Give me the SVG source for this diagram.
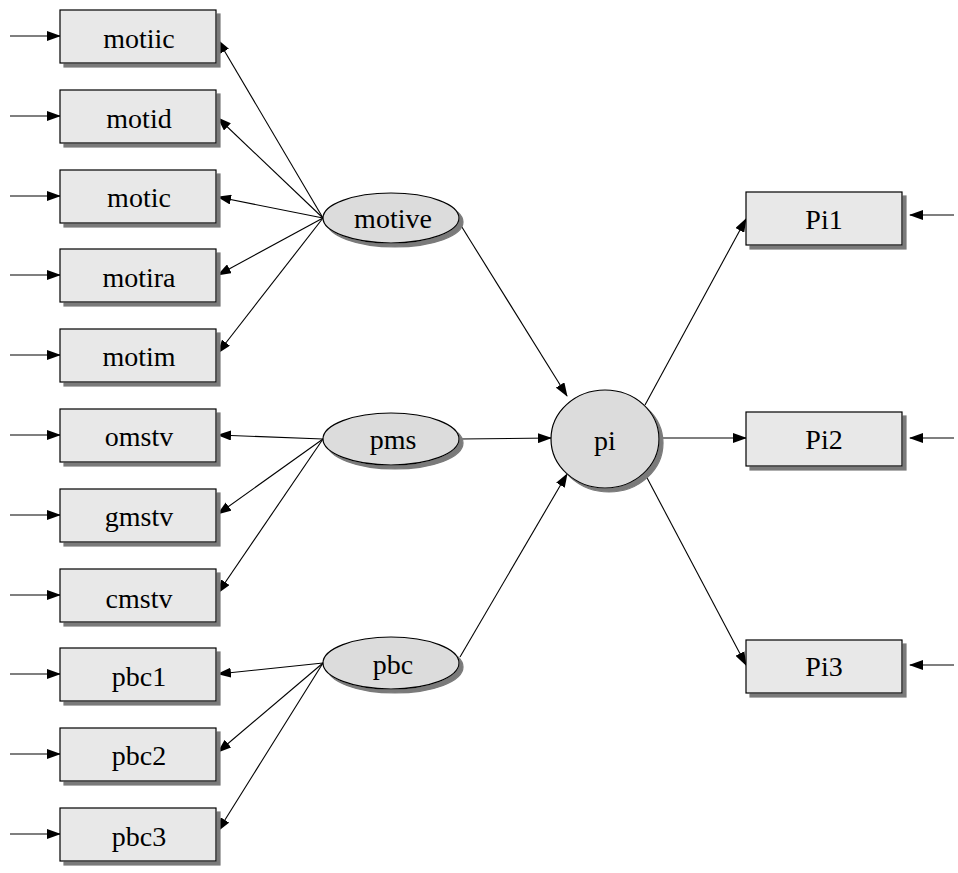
<svg xmlns="http://www.w3.org/2000/svg" width="958" height="873" viewBox="0 0 958 873">
<defs>
<marker id="ah" markerWidth="14" markerHeight="10" refX="13" refY="5" orient="auto" markerUnits="userSpaceOnUse">
<path d="M0,0 L14,5 L0,10 Z" fill="#000"/>
</marker>
<filter id="sh" x="-10%" y="-10%" width="130%" height="140%">
<feOffset dx="4" dy="4" in="SourceAlpha" result="o"/>
<feGaussianBlur in="o" stdDeviation="0.6" result="b"/>
<feFlood flood-color="#7a7a7a"/>
<feComposite in2="b" operator="in" result="s"/>
<feMerge><feMergeNode in="s"/><feMergeNode in="SourceGraphic"/></feMerge>
</filter>
</defs>
<style>
.box{fill:#e8e8e8;stroke:#000;stroke-width:1.2;filter:url(#sh)}
.lat{fill:#dcdcdc;stroke:#000;stroke-width:1.2;filter:url(#sh)}
text{font-family:"Liberation Serif","Times New Roman",serif;font-size:28px;fill:#000;text-anchor:middle;dominant-baseline:central}
.c line{stroke:#000;stroke-width:1.1;marker-end:url(#ah)}
</style>
<rect width="958" height="873" fill="#fff"/>
<g class="c" id="connectors">
<line x1="10" y1="36" x2="60" y2="36"/>
<line x1="10" y1="116" x2="60" y2="116"/>
<line x1="10" y1="196" x2="60" y2="196"/>
<line x1="10" y1="275" x2="60" y2="275"/>
<line x1="10" y1="355" x2="60" y2="355"/>
<line x1="10" y1="435" x2="60" y2="435"/>
<line x1="10" y1="515" x2="60" y2="515"/>
<line x1="10" y1="595" x2="60" y2="595"/>
<line x1="10" y1="674" x2="60" y2="674"/>
<line x1="10" y1="754" x2="60" y2="754"/>
<line x1="10" y1="834" x2="60" y2="834"/>
<line x1="954" y1="215" x2="910" y2="215"/>
<line x1="954" y1="438" x2="910" y2="438"/>
<line x1="954" y1="665" x2="910" y2="665"/>
<line x1="323" y1="218" x2="218" y2="40"/>
<line x1="323" y1="218" x2="218" y2="118"/>
<line x1="323" y1="218" x2="218" y2="197"/>
<line x1="323" y1="218" x2="218" y2="275"/>
<line x1="323" y1="218" x2="218" y2="353"/>
<line x1="323" y1="439" x2="218" y2="435"/>
<line x1="323" y1="439" x2="218" y2="514"/>
<line x1="323" y1="439" x2="218" y2="593"/>
<line x1="323" y1="663" x2="218" y2="674"/>
<line x1="323" y1="663" x2="218" y2="752"/>
<line x1="323" y1="663" x2="218" y2="831"/>
<line x1="460" y1="224" x2="567" y2="396"/>
<line x1="460" y1="439" x2="551" y2="438"/>
<line x1="460" y1="657" x2="567" y2="474"/>
<line x1="645" y1="405" x2="746" y2="219"/>
<line x1="660" y1="438" x2="746" y2="438"/>
<line x1="645" y1="474" x2="746" y2="665"/>
</g>
<g id="motiic"><rect class="box" x="60" y="10" width="156" height="53"/><text x="139" y="38">motiic</text></g>
<g id="motid"><rect class="box" x="60" y="90" width="156" height="53"/><text x="139" y="118">motid</text></g>
<g id="motic"><rect class="box" x="60" y="170" width="156" height="53"/><text x="139" y="197">motic</text></g>
<g id="motira"><rect class="box" x="60" y="249" width="156" height="53"/><text x="139" y="277">motira</text></g>
<g id="motim"><rect class="box" x="60" y="329" width="156" height="53"/><text x="139" y="356">motim</text></g>
<g id="omstv"><rect class="box" x="60" y="409" width="156" height="53"/><text x="139" y="436">omstv</text></g>
<g id="gmstv"><rect class="box" x="60" y="489" width="156" height="53"/><text x="139" y="516">gmstv</text></g>
<g id="cmstv"><rect class="box" x="60" y="569" width="156" height="53"/><text x="139" y="598">cmstv</text></g>
<g id="pbc1"><rect class="box" x="60" y="648" width="156" height="53"/><text x="139" y="676">pbc1</text></g>
<g id="pbc2"><rect class="box" x="60" y="728" width="156" height="53"/><text x="139" y="755">pbc2</text></g>
<g id="pbc3"><rect class="box" x="60" y="808" width="156" height="53"/><text x="139" y="836">pbc3</text></g>
<g id="Pi1"><rect class="box" x="746" y="192" width="156" height="53"/><text x="824" y="219">Pi1</text></g>
<g id="Pi2"><rect class="box" x="746" y="412" width="156" height="54"/><text x="824" y="439">Pi2</text></g>
<g id="Pi3"><rect class="box" x="746" y="640" width="156" height="53"/><text x="824" y="666">Pi3</text></g>
<g id="motive"><ellipse class="lat" cx="391" cy="218" rx="68" ry="25"/><text x="393" y="218">motive</text></g>
<g id="pms"><ellipse class="lat" cx="391" cy="439" rx="68" ry="26"/><text x="393" y="439">pms</text></g>
<g id="pbc"><ellipse class="lat" cx="391" cy="663" rx="68" ry="26"/><text x="393" y="664">pbc</text></g>
<g id="pi"><ellipse class="lat" cx="605" cy="439" rx="54" ry="49"/><text x="605" y="440">pi</text></g>
</svg>
